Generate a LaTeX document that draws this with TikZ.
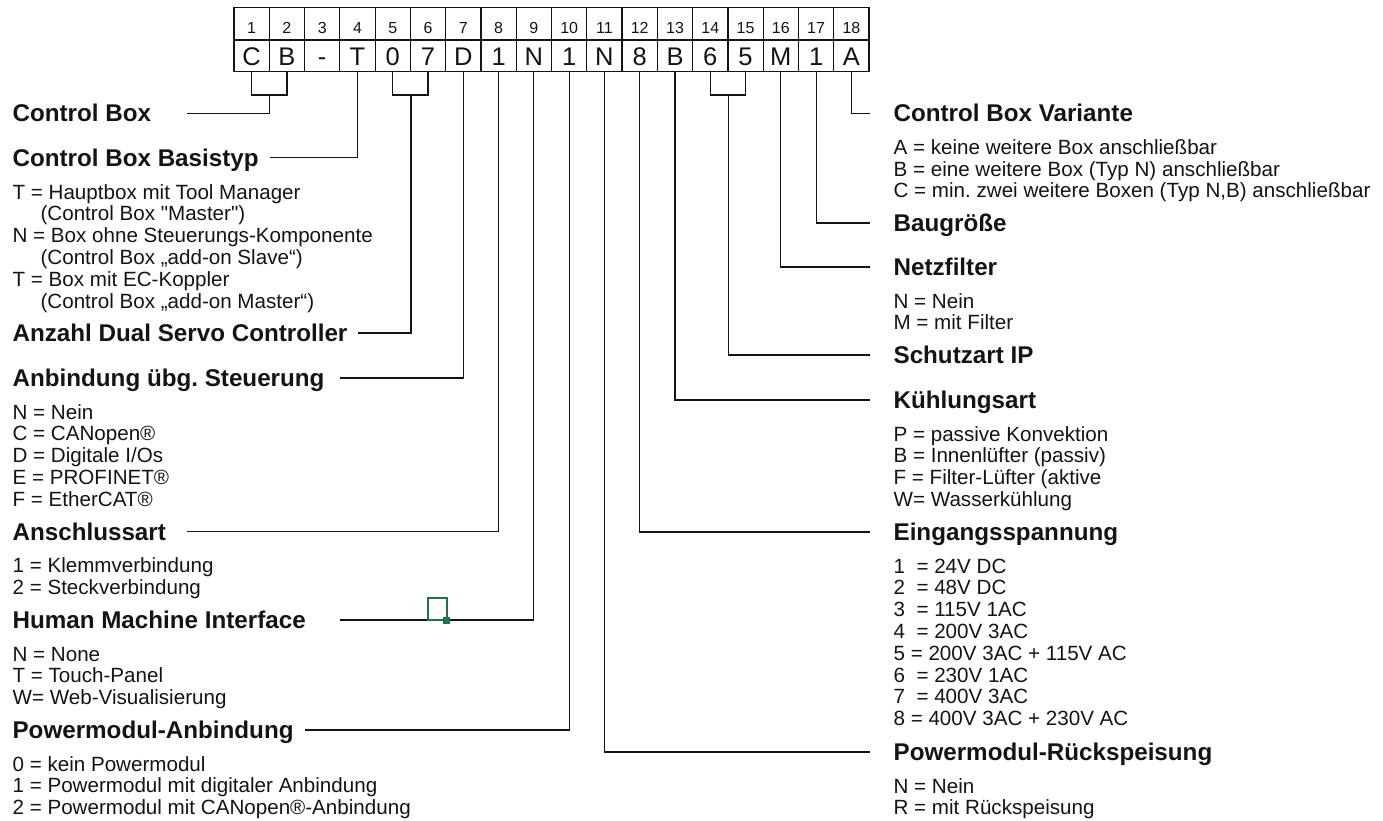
\documentclass[tikz,border=0pt]{standalone}
\usepackage{fontspec}
\setmainfont{Liberation Sans}
\usepackage{tikz}
\usetikzlibrary{calc}
\definecolor{codeblack}{RGB}{20, 20, 20}
\definecolor{selgreen}{RGB}{33, 115, 70}
\frenchspacing

\newcommand{\optlist}[4]{%
  \foreach \itm [count=\k] in {#4}
    \node[opt] (#1\k) at (#2, #3+21.8*\k-21.8) {\itm};%
}

\begin{document}
\begin{tikzpicture}[x=1pt, y=-1pt, line width=1.2pt, draw=codeblack, text=codeblack,
  title/.style={font=\fontsize{24.2}{26}\selectfont\bfseries, inner sep=0pt, text height=17.3pt, text depth=0pt},
  opt/.style={font=\fontsize{20.6}{21.8}\selectfont, inner sep=0pt, anchor=base west},
  cell/.style={draw, inner sep=0pt, minimum width=35.28pt, text depth=0pt},
  numcell/.style={cell, minimum height=32.7pt, font=\fontsize{16}{18}\selectfont, text height=20.1pt},
  chrcell/.style={cell, minimum height=31.7pt, font=\fontsize{25.5}{28}\selectfont, text height=18.3pt}]
  \useasboundingbox (0,0) rectangle (1383,820);

  \foreach \ch [count=\i] in {C,B,-,T,0,7,D,1,N,1,N,8,B,6,5,M,1,A} {
    \node[numcell] (n\i) at (234+35.28*\i-17.64, 23.65) {\i};
    \node[chrcell] (c\i) at (234+35.28*\i-17.64, 55.85) {\ch};
  }

  \node[title, anchor=west] (cb) at (12,113.3) {Control Box};
  \node[title, anchor=west] (cbt) at (12,157.7) {Control Box Basistyp};
  \node[title, anchor=west] (dsc) at (12,333) {Anzahl Dual Servo Controller};
  \node[title, anchor=west] (ubg) at (12,378) {Anbindung übg. Steuerung};
  \node[title, anchor=west] (ans) at (12,531.7) {Anschlussart};
  \node[title, anchor=west] (hmi) at (12,620) {Human Machine Interface};
  \node[title, anchor=west] (pma) at (12,730) {Powermodul-Anbindung};

  \node[title, anchor=west] (var) at (893,113.3) {Control Box Variante};
  \node[title, anchor=west] (bg) at (893,223) {Baugröße};
  \node[title, anchor=west] (nf) at (893,267) {Netzfilter};
  \node[title, anchor=west] (ip) at (893,355) {Schutzart IP};
  \node[title, anchor=west] (kue) at (893,400) {Kühlungsart};
  \node[title, anchor=west] (ein) at (893,532) {Eingangsspannung};
  \node[title, anchor=west] (prs) at (893,752) {Powermodul-Rückspeisung};

  \optlist{cbt}{12}{199}{T = Hauptbox mit Tool Manager, \hspace*{28pt}(Control Box \textquotedbl Master\textquotedbl),
    N = Box ohne Steuerungs-Komponente, \hspace*{28pt}(Control Box „add-on Slave“),
    T = Box mit EC-Koppler, \hspace*{28pt}(Control Box „add-on Master“)}
  \optlist{ubg}{12}{419}{N = Nein, C = CANopen®, D = Digitale I/Os, E = PROFINET®, F = EtherCAT®}
  \optlist{ans}{12}{572.7}{1 = Klemmverbindung, 2 = Steckverbindung}
  \optlist{hmi}{12}{661}{N = None, T = Touch-Panel, W= Web-Visualisierung}
  \optlist{pma}{12}{771}{0 = kein Powermodul, 1 = Powermodul mit digitaler Anbindung,
    2 = Powermodul mit CANopen®-Anbindung}

  \optlist{var}{893}{154.3}{A = keine weitere Box anschließbar, B = eine weitere Box (Typ N) anschließbar,
    {C = min. zwei weitere Boxen (Typ N,B) anschließbar}}
  \optlist{nf}{893}{308}{N = Nein, M = mit Filter}
  \optlist{kue}{893}{441}{P = passive Konvektion, B = Innenlüfter (passiv), F = Filter-Lüfter (aktive,
    W= Wasserkühlung}
  \optlist{ein}{893}{573}{1~ = 24V DC, 2~ = 48V DC, 3~ = 115V 1AC, 4~ = 200V 3AC, 5 = 200V 3AC + 115V AC,
    6~ = 230V 1AC, 7~ = 400V 3AC, 8 = 400V 3AC + 230V AC}
  \optlist{prs}{893}{793}{N = Nein, R = mit Rückspeisung}

  \coordinate (ecb) at (186.7,113.3);
  \coordinate (ecbt) at (270,157.7);
  \coordinate (edsc) at (358,333);
  \coordinate (eubg) at (340,378);
  \coordinate (eans) at (186.7,531.7);
  \coordinate (ehmi) at (340,620);
  \coordinate (epma) at (305,730);
  \coordinate (evar) at (870,113.3);
  \coordinate (ebg) at (870,223);
  \coordinate (enf) at (870,267);
  \coordinate (eip) at (870,355);
  \coordinate (ekue) at (870,400);
  \coordinate (eein) at (870,532);
  \coordinate (eprs) at (870,752);

  \draw (c1.south) -- ++(0,22.6) -| (c2.south);
  \draw (c1.south east) ++(0,22.6) |- (ecb);
  \draw (c4.south) |- (ecbt);
  \draw (c5.south) -- ++(0,22.6) -| (c6.south);
  \draw (c5.south east) ++(0,22.6) |- (edsc);
  \draw (c7.south) |- (eubg);
  \draw (c8.south) |- (eans);
  \draw (c9.south) |- (ehmi);
  \draw (c10.south) |- (epma);
  \draw (c11.south) |- (eprs);
  \draw (c12.south) |- (eein);
  \draw (c13.south) |- (ekue);
  \draw (c14.south) -- ++(0,22.6) -| (c15.south);
  \draw (c14.south east) ++(0,22.6) |- (eip);
  \draw (c16.south) |- (enf);
  \draw (c17.south) |- (ebg);
  \draw (c18.south) |- (evar);

  \draw[selgreen, line width=2pt] (427.5,619.5) |- (446.5,597.5) -- (446.5,619.5) -- cycle;
  \fill[selgreen] (443,616.5) rectangle (450,623.5);
\end{tikzpicture}
\end{document}
